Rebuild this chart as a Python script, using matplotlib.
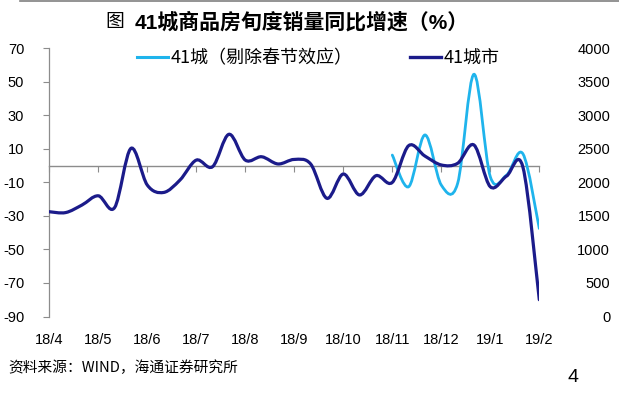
import matplotlib
matplotlib.use('Agg')
import numpy as np
import matplotlib.pyplot as plt
from matplotlib.path import Path
from matplotlib.patches import PathPatch
from matplotlib.lines import Line2D

plt.rcParams['font.family'] = ['Liberation Sans', 'Noto Sans CJK SC', 'DejaVu Sans']
plt.rcParams['axes.unicode_minus'] = False

# 旬度数据: 18/4上旬 ~ 19/2上旬
months = ['18/4', '18/5', '18/6', '18/7', '18/8', '18/9', '18/10',
          '18/11', '18/12', '19/1', '19/2']
city41 = [-27.5, -28, -23.5, -18, -25, 10.3, -11.6, -16, -8.6, 3.3,
          -0.6, 18.7, 3.3, 5.3, 1, 3.7, 1, -19.5, -5, -17.5,
          -6, -10, 11.9, 5.7, 0.4, 1.4, 12.3, -12.6, -6.2, -1, -80]
# 剔除春节效应, 从18/11开始
city41_adj = [6.3, -12.6, 18.3, -11.6, -10.6, 54.5, -6.6, -5.6, 7, -37.5]
adj_start = 21

right_ticks = [0, 500, 1000, 1500, 2000, 2500, 3000, 3500, 4000]
left_ticks = [-90, -70, -50, -30, -10, 10, 30, 50, 70]

c_dark = '#1b1b8a'
c_light = '#1fb4ec'
c_grey = '#8c8c8c'


def smooth_path(xs, ys):
    # 平滑曲线 (Catmull-Rom -> Bezier)
    pts = np.column_stack([xs, ys]).astype(float)
    n = len(pts)
    verts = [pts[0]]
    codes = [Path.MOVETO]
    for i in range(n - 1):
        p0 = pts[i - 1] if i > 0 else pts[i]
        p1 = pts[i]
        p2 = pts[i + 1]
        p3 = pts[i + 2] if i + 2 < n else pts[i + 1]
        verts += [p1 + (p2 - p0) / 6, p2 - (p3 - p1) / 6, p2]
        codes += [Path.CURVE4] * 3
    return Path(verts, codes)


fig = plt.figure(figsize=(6.19, 3.94), dpi=100)
ax = fig.add_axes([49.3 / 619, 1 - 316.5 / 394, 490 / 619, 268.2 / 394])

x_all = np.arange(len(city41))
x_adj = np.arange(adj_start, adj_start + len(city41_adj))

ax.add_patch(PathPatch(smooth_path(x_adj, city41_adj), fill=False,
                       edgecolor=c_light, lw=2.0, capstyle='round', zorder=3))
ax.add_patch(PathPatch(smooth_path(x_all, city41), fill=False,
                       edgecolor=c_dark, lw=2.3, capstyle='round', zorder=4))

ax.set_xlim(0, 30)
ax.set_ylim(-90, 70)
ax.set_yticks(left_ticks)
ax.tick_params(axis='y', length=4, width=0.8, color=c_grey, pad=14,
               labelsize=10.5)

for s in ['top', 'right']:
    ax.spines[s].set_visible(False)
ax.spines['left'].set_color(c_grey)
ax.spines['left'].set_linewidth(0.9)
ax.spines['bottom'].set_position(('data', 0))
ax.spines['bottom'].set_color(c_grey)
ax.spines['bottom'].set_linewidth(1.0)
month_pos = np.arange(0, 31, 3)
ax.set_xticks(month_pos)
ax.set_xticklabels([])
ax.tick_params(axis='x', length=4, width=0.8, color=c_grey)

sec = ax.secondary_xaxis('bottom')
sec.set_xticks(month_pos)
sec.set_xticklabels(months)
sec.tick_params(length=0, pad=12, labelsize=10.5)
sec.spines['bottom'].set_visible(False)

ax2 = ax.twinx()
ax2.set_ylim(0, 4000)
ax2.set_yticks(right_ticks)
ax2.tick_params(axis='y', length=0, pad=51, labelsize=10.5)
for lab in ax2.get_yticklabels():
    lab.set_horizontalalignment('right')
for s in ax2.spines.values():
    s.set_visible(False)

handles = [Line2D([], [], color=c_light, lw=2.2),
           Line2D([], [], color=c_dark, lw=2.4)]
fig.legend(handles, ['41城（剔除春节效应）', '41城市'], ncol=2, frameon=False,
           loc='center left', bbox_to_anchor=(137 / 619, 1 - 58.5 / 394),
           borderpad=0, borderaxespad=0, handlelength=1.7, handletextpad=0.15,
           columnspacing=3.2, prop={'family': ['Noto Sans CJK SC'], 'size': 13})

fig.text(105 / 619, 1 - 22 / 394, '图', fontsize=13.5, va='center',
         family=['Noto Sans CJK SC'])
fig.text(135 / 619, 1 - 22 / 394, '41城商品房旬度销量同比增速（%）', fontsize=15,
         fontweight='bold', va='center', family=['Liberation Sans', 'Noto Sans CJK SC'])
fig.add_artist(Line2D([20 / 619, 1.0], [0.998, 0.998], color='#808080', lw=1.2))

fig.text(8 / 619, 1 - 368 / 394, '资料来源：WIND，海通证券研究所', fontsize=10.6,
         va='center', family=['Noto Sans CJK SC'])
fig.text(573 / 619, 1 - 378 / 394, '4', fontsize=14, ha='center', va='center')

fig.savefig('out.png', dpi=100)
